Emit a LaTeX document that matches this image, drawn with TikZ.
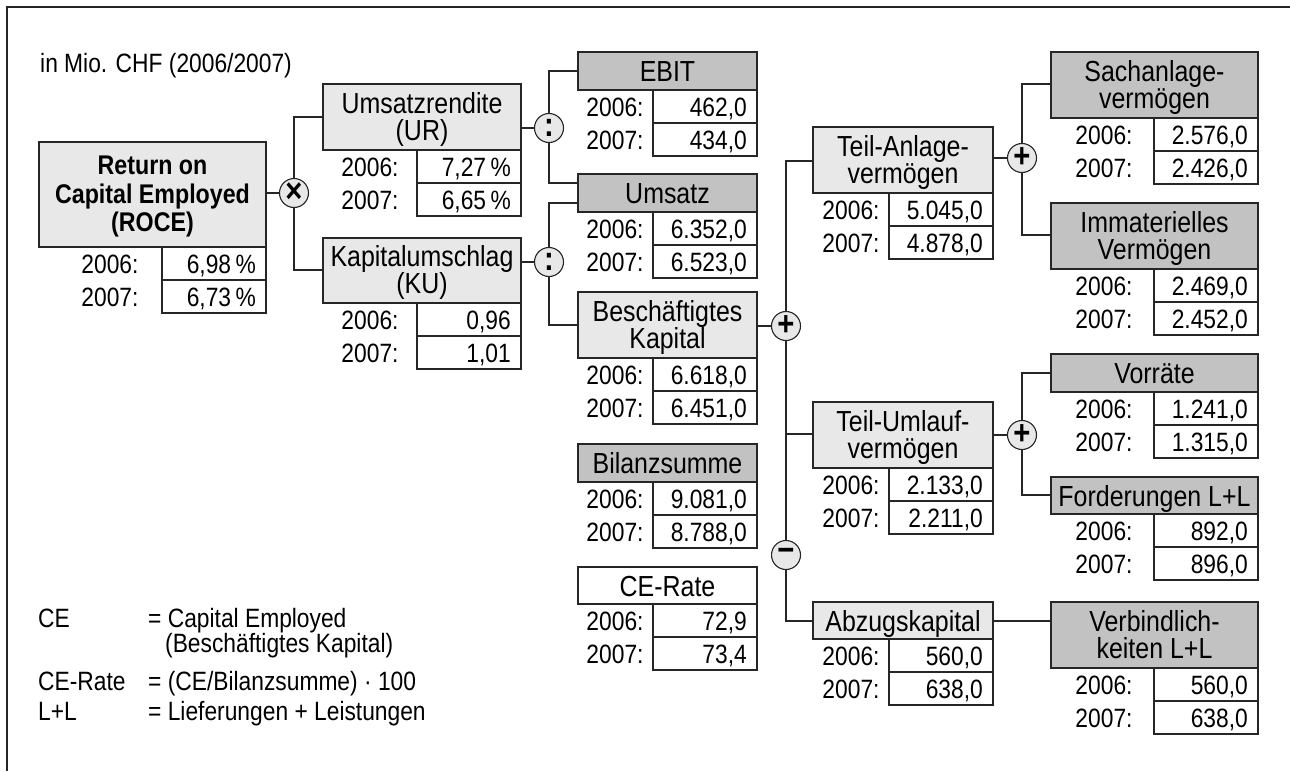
\documentclass[tikz,border=0pt]{standalone}
\usepackage{fontspec}
\setmainfont{Liberation Sans}[FakeStretch=0.86]
\usetikzlibrary{calc}
\definecolor{lightg}{gray}{0.91}
\definecolor{darkg}{gray}{0.76}
\definecolor{linec}{gray}{0.15}
\tikzset{
  boxbase/.style={draw=linec, line width=1.2pt, inner sep=0pt, rectangle},
  lbox/.style={boxbase, fill=lightg},
  dbox/.style={boxbase, fill=darkg},
  wbox/.style={boxbase, fill=white},
  cell/.style={boxbase, fill=white},
  txt/.style={inner sep=0pt, font=\fontsize{26.5}{27}\selectfont},
  ttxt/.style={inner sep=0pt, font=\fontsize{29}{27}\selectfont},
  btxt/.style={inner sep=0pt, font=\fontsize{27}{28}\selectfont\bfseries},
  conn/.style={draw=linec, line width=1.1pt},
  op/.style={circle, draw=linec, line width=1.1pt, fill=lightg, minimum size=29pt,
             inner sep=0pt, font=\fontsize{34}{34}\selectfont\bfseries},
}
% title box: name, style, x1, x2, y1, y2
\newcommand\kbox[6]{\node[#2, minimum width={#4-#3}, minimum height={#6-#5}] (#1) at ({(#3+#4)/2},{(#5+#6)/2}) {};}
% one-line title
\newcommand\kone[2]{\node[ttxt, anchor=base] (#1-t) at ($(#1.center)+(0,10.5)$) {#2};}
% two-line title
\newcommand\ktwo[3]{%
  \node[ttxt, anchor=base] (#1-t1) at ($(#1.center)+(0,-4)$) {#2};
  \node[ttxt, anchor=base] (#1-t2) at ($(#1.center)+(0,23)$) {#3};}
% value rows: name, xl, xr, ytop, label x, v1, v2
\newcommand\kvals[7]{%
  \node[cell, minimum width={#3-#2}, minimum height=33] (#1-c1) at ({(#2+#3)/2},{#4+16.5}) {};
  \node[cell, minimum width={#3-#2}, minimum height=33] (#1-c2) at ({(#2+#3)/2},{#4+49.5}) {};
  \node[txt, anchor=base] (#1-l1) at (#5,{#4+26}) {2006:};
  \node[txt, anchor=base] (#1-l2) at (#5,{#4+59}) {2007:};
  \node[txt, anchor=base east] (#1-v1) at ({#3-10},{#4+26}) {#6};
  \node[txt, anchor=base east] (#1-v2) at ({#3-10},{#4+59}) {#7};}

\begin{document}
\begin{tikzpicture}[x=1pt,y=-1pt]
\useasboundingbox (0,0) rectangle (1290,771);
\fill[white] (0,0) rectangle (1290,771);
\draw[linec, line width=1.3pt] (7,771) -- (7,7) -- (1290,7);

\node[txt, anchor=base west] (unit) at (40,72) {in Mio. CHF (2006/2007)};

% ROCE
\kbox{roce}{lbox}{39}{266}{142}{247}
\node[btxt, anchor=base] (roce-t1) at (152.5,174) {Return on};
\node[btxt, anchor=base] (roce-t2) at (152.5,203) {Capital Employed};
\node[btxt, anchor=base] (roce-t3) at (152.5,231) {(ROCE)};
\kvals{roce}{162}{266}{247}{110}{6,98\,\%}{6,73\,\%}

% column 2
\kbox{ur}{lbox}{323}{521}{84}{150}
\ktwo{ur}{Umsatzrendite}{(UR)}
\kvals{ur}{417}{521}{150}{370}{7,27\,\%}{6,65\,\%}

\kbox{ku}{lbox}{323}{521}{238}{303}
\ktwo{ku}{Kapitalumschlag}{(KU)}
\kvals{ku}{417}{521}{303}{370}{0,96}{1,01}

% column 3
\kbox{ebit}{dbox}{578}{757}{52}{90}
\kone{ebit}{EBIT}
\kvals{ebit}{653}{757}{90}{615}{462,0}{434,0}

\kbox{ums}{dbox}{578}{757}{174}{212}
\kone{ums}{Umsatz}
\kvals{ums}{653}{757}{212}{615}{6.352,0}{6.523,0}

\kbox{besch}{lbox}{578}{757}{292}{358}
\ktwo{besch}{Beschäftigtes}{Kapital}
\kvals{besch}{653}{757}{358}{615}{6.618,0}{6.451,0}

\kbox{bil}{dbox}{578}{757}{444}{482}
\kone{bil}{Bilanzsumme}
\kvals{bil}{653}{757}{482}{615}{9.081,0}{8.788,0}

\kbox{cer}{wbox}{578}{757}{567}{604}
\kone{cer}{CE-Rate}
\kvals{cer}{653}{757}{604}{615}{72,9}{73,4}

% column 4
\kbox{tav}{lbox}{813}{993}{127}{193}
\ktwo{tav}{Teil-Anlage-}{vermögen}
\kvals{tav}{889}{993}{193}{851}{5.045,0}{4.878,0}

\kbox{tuv}{lbox}{813}{993}{402}{468}
\ktwo{tuv}{Teil-Umlauf-}{vermögen}
\kvals{tuv}{889}{993}{468}{851}{2.133,0}{2.211,0}

\kbox{abz}{lbox}{813}{993}{602}{639}
\kone{abz}{Abzugskapital}
\kvals{abz}{889}{993}{639}{851}{560,0}{638,0}

% column 5
\kbox{sach}{dbox}{1051}{1258}{52}{118}
\ktwo{sach}{Sachanlage-}{vermögen}
\kvals{sach}{1154}{1258}{118}{1104}{2.576,0}{2.426,0}

\kbox{imm}{dbox}{1051}{1258}{203}{269}
\ktwo{imm}{Immaterielles}{Vermögen}
\kvals{imm}{1154}{1258}{269}{1104}{2.469,0}{2.452,0}

\kbox{vor}{dbox}{1051}{1258}{354}{392}
\kone{vor}{Vorräte}
\kvals{vor}{1154}{1258}{392}{1104}{1.241,0}{1.315,0}

\kbox{ford}{dbox}{1051}{1258}{477}{514}
\kone{ford}{Forderungen L+L}
\kvals{ford}{1154}{1258}{514}{1104}{892,0}{896,0}

\kbox{verb}{dbox}{1051}{1258}{602}{668}
\ktwo{verb}{Verbindlich-}{keiten L+L}
\kvals{verb}{1154}{1258}{668}{1104}{560,0}{638,0}

% operator circles
\node[op] (times) at (294,193) {×};
\node[op] (colA) at (549,128) {:};
\node[op] (colB) at (549,262) {:};
\node[op] (plusA) at (786,326) {+};
\node[op] (minus) at (786,555) {−};
\node[op] (plusB) at (1022,158) {+};
\node[op] (plusC) at (1022,435) {+};

% entry points
\coordinate (ur-in) at (323,117);
\coordinate (ku-in) at (323,270);
\coordinate (ebit-in) at (578,71);
\coordinate (ums-inA) at (578,183);
\coordinate (ums-inB) at (578,203);
\coordinate (besch-in) at (578,325);
\coordinate (tav-in) at (813,161);
\coordinate (tuv-in) at (813,434);
\coordinate (abz-in) at (813,621);
\coordinate (sach-in) at (1051,84);
\coordinate (imm-in) at (1051,235);
\coordinate (vor-in) at (1051,373);
\coordinate (ford-in) at (1051,495);

% connectors
\draw[conn] (roce.east |- times) -- (times);
\draw[conn] (times) |- (ur-in);
\draw[conn] (times) |- (ku-in);

\draw[conn] (ur.east |- colA) -- (colA);
\draw[conn] (colA) |- (ebit-in);
\draw[conn] (colA) |- (ums-inA);

\draw[conn] (ku.east |- colB) -- (colB);
\draw[conn] (colB) |- (ums-inB);
\draw[conn] (colB) |- (besch-in);

\draw[conn] (besch.east |- plusA) -- (plusA);
\draw[conn] (plusA) |- (tav-in);
\draw[conn] (plusA) -- (minus);
\draw[conn] (tuv-in) -- (tuv-in -| plusA);
\draw[conn] (minus) |- (abz-in);

\draw[conn] (tav.east |- plusB) -- (plusB);
\draw[conn] (plusB) |- (sach-in);
\draw[conn] (plusB) |- (imm-in);

\draw[conn] (tuv.east |- plusC) -- (plusC);
\draw[conn] (plusC) |- (vor-in);
\draw[conn] (plusC) |- (ford-in);

\draw[conn] (abz-in -| abz.east) -- (abz-in -| verb.west);

% legend
\node[txt, anchor=base west] (lg-ce) at (38,627) {CE};
\node[txt, anchor=base west] (lg-ce-d) at (148,627) {= Capital Employed};
\node[txt, anchor=base west] (lg-ce-d2) at (165,652) {(Beschäftigtes Kapital)};
\node[txt, anchor=base west] (lg-rate) at (38,690) {CE-Rate};
\node[txt, anchor=base west] (lg-rate-d) at (148,690) {= (CE/Bilanzsumme) · 100};
\node[txt, anchor=base west] (lg-ll) at (38,720) {L+L};
\node[txt, anchor=base west] (lg-ll-d) at (148,720) {= Lieferungen + Leistungen};
\end{tikzpicture}
\end{document}
